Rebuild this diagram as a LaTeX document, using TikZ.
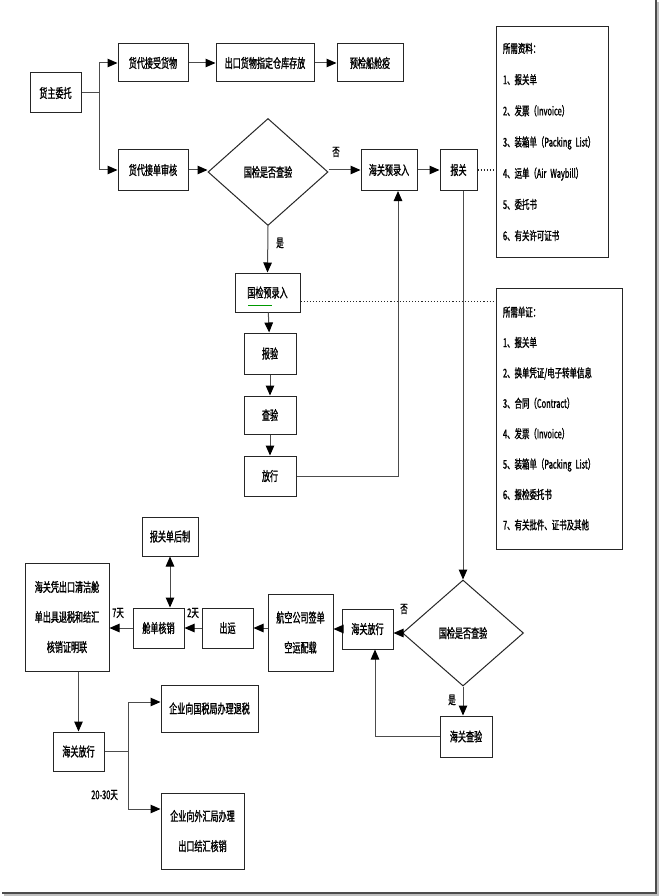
\documentclass[tikz,border=0pt]{standalone}
\usepackage{fontspec}
\newfontfamily\cjk[FakeStretch=0.62,FakeBold=1.2]{Noto Sans CJK SC}
\usetikzlibrary{arrows.meta,shapes.geometric,calc}
\begin{document}
\begin{tikzpicture}[x=1pt,y=-1pt,
  bx/.style={draw=black!85, line width=1pt, inner sep=0pt, align=center,
    font=\cjk\fontsize{13}{30}\selectfont},
  dia/.style={draw=black!85, line width=1pt, diamond, inner sep=0pt,
    font=\cjk\fontsize{13}{16}\selectfont},
  info/.style={draw=black!85, line width=1pt, inner xsep=7pt, inner ysep=0pt, align=left},
  ln/.style={draw=black!70, line width=1pt},
  ar/.style={ln, -{Triangle[length=10pt,width=8.5pt,color=black]}},
  lbl/.style={font=\cjk\fontsize{12}{14}\selectfont, inner sep=0pt},
  dots/.style={draw=black!85, line width=1.1pt, dotted}
]
\useasboundingbox (0,0) rectangle (659,896);
\fill[white] (0,0) rectangle (659,896);
% frame
\draw[black!25, line width=2pt] (4,895) -- (658,895) -- (658,2);
\draw[black!70, line width=1.6pt] (2,893) -- (656,893) -- (656,0);

% top row
\node[bx, minimum width=51pt, minimum height=40pt] (n1) at (55.5,93) {货主委托};
\node[bx, minimum width=70pt, minimum height=38pt] (n2) at (153,63) {货代接受货物};
\node[bx, minimum width=98pt, minimum height=38pt] (n3) at (265,63) {出口货物指定仓库存放};
\node[bx, minimum width=66pt, minimum height=38pt] (n4) at (370,63) {预检船舱疫};
\node[bx, minimum width=70pt, minimum height=41pt] (n5) at (153,170) {货代接单审核};
\node[dia, minimum width=120pt, minimum height=107pt] (d1) at (268,172) {国检是否查验};
\node[bx, minimum width=56pt, minimum height=41pt] (n6) at (389,170) {海关预录入};
\node[bx, minimum width=37pt, minimum height=41pt] (n7) at (458.5,170) {报关};

% left column
\node[bx, minimum width=65pt, minimum height=39pt] (n8) at (267.5,292.5) {国检预录入};
\node[bx, minimum width=52pt, minimum height=41pt] (n9) at (270,353.5) {报验};
\node[bx, minimum width=52pt, minimum height=38pt] (n10) at (270,415) {查验};
\node[bx, minimum width=52pt, minimum height=40pt] (n11) at (270,476) {放行};

% info boxes
\node[info, text width=98pt, minimum height=230pt, font=\cjk\fontsize{12}{31.2}\selectfont] (i1) at (552,142) {%
所需资料：\\
1、报关单\\
2、发票（Invoice）\\
3、装箱单（Packing List）\\
4、运单（Air Waybill）\\
5、委托书\\
6、有关许可证书};
\node[info, text width=112pt, minimum height=261pt, font=\cjk\fontsize{12}{30.4}\selectfont] (i2) at (559,418.5) {%
所需单证：\\
1、报关单\\
2、换单凭证/电子转单信息\\
3、合同（Contract）\\
4、发票（Invoice）\\
5、装箱单（Packing List）\\
6、报检委托书\\
7、有关批件、证书及其他};

% lower part
\node[dia, minimum width=121pt, minimum height=106pt] (d2) at (463,633) {国检是否查验};
\node[bx, minimum width=51pt, minimum height=40pt] (n12) at (367.5,629) {海关放行};
\node[bx, minimum width=52pt, minimum height=41pt] (n13) at (466,736.5) {海关查验};
\node[bx, minimum width=65pt, minimum height=77pt] (n14) at (300.5,632.5) {航空公司签单\\空运配载};
\node[bx, minimum width=51pt, minimum height=40pt] (n15) at (227.5,628) {出运};
\node[bx, minimum width=51pt, minimum height=40pt] (n16) at (158.5,628) {舱单核销};
\node[bx, minimum width=56pt, minimum height=39pt] (n17) at (170,536.5) {报关单后制};
\node[bx, minimum width=84pt, minimum height=108pt] (n18) at (67,617) {海关凭出口清洁舱\\单出具退税和结汇\\核销证明联};
\node[bx, minimum width=51pt, minimum height=39pt] (n19) at (78.5,751.5) {海关放行};
\node[bx, minimum width=97pt, minimum height=47pt] (n20) at (209.5,708.5) {企业向国税局办理退税};
\node[bx, minimum width=83pt, minimum height=76pt] (n21) at (202.5,831) {企业向外汇局办理\\出口结汇核销};

% green spell-check underline
\draw[green!60!black, line width=0.8pt] (248,305) -- (272,305);

% connectors top
\coordinate (j1) at (99,93);
\draw[ln] (n1.east) -- (j1);
\draw[ar] (j1) |- (n2.west);
\draw[ar] (j1) |- (n5.west);
\draw[ar] (n2) -- (n3);
\draw[ar] (n3) -- (n4);
\draw[ar] (n5.east) -- (n5.east -| d1.west);
\draw[ar] (d1.east |- n6.west) -- (n6.west);
\node[lbl] (no1) at (336,152) {否};
\draw[ar] (n6) -- (n7);
\draw[ar] (d1.south) -- (n8.north);
\node[lbl] (yes1) at (280,243) {是};
\draw[ar] (n8) -- (n9);
\draw[ar] (n9) -- (n10);
\draw[ar] (n10) -- (n11);
\coordinate (n6b) at ($(n6.south)+(9,0)$);
\draw[ar] (n11.east) -| (n6b);
\draw[ar] (n7.south -| d2.north) -- (d2.north);
\draw[dots] (n7.east) -- (n7.east -| i1.west);
\coordinate (n8d) at ($(n8.south east)!0.27!(n8.north east)$);
\draw[dots] (n8d) -- (n8d -| i2.west);

% connectors lower
\draw[ar] (d2.west) -- (d2.west -| n12.east);
\node[lbl] (no2) at (404,609) {否};
\draw[ar] (d2.south) -- (d2.south |- n13.north);
\node[lbl] (yes2) at (452,700) {是};
\coordinate (n12b) at ($(n12.south)+(7.5,0)$);
\draw[ar] (n13.west) -| (n12b);
\draw[ar] (n12.west) -- (n12.west -| n14.east);
\draw[ar] (n14.west |- n15.east) -- (n15.east);
\draw[ar] (n15) -- (n16);
\node[lbl] (t2) at (193,613) {2天};
\draw[ar] (n16.west) -- (n16.west -| n18.east);
\node[lbl] (t7) at (118,613) {7天};
\draw[ln, {Triangle[length=10pt,width=8.5pt,color=black]}-{Triangle[length=10pt,width=8.5pt,color=black]}] (n17.south) -- (n17.south |- n16.north);
\draw[ar] (n18.south -| n19.north) -- (n19.north);
\coordinate (j2) at (128,751.5);
\draw[ln] (n19.east) -- (j2);
\coordinate (n20a) at ($(n20.west)+(0,-6.5)$);
\coordinate (n21a) at ($(n21.west)+(0,-22)$);
\draw[ar] (j2) |- (n20a);
\draw[ar] (j2) |- (n21a);
\node[lbl, anchor=east] (t20) at (118,795) {20-30天};
\end{tikzpicture}
\end{document}
